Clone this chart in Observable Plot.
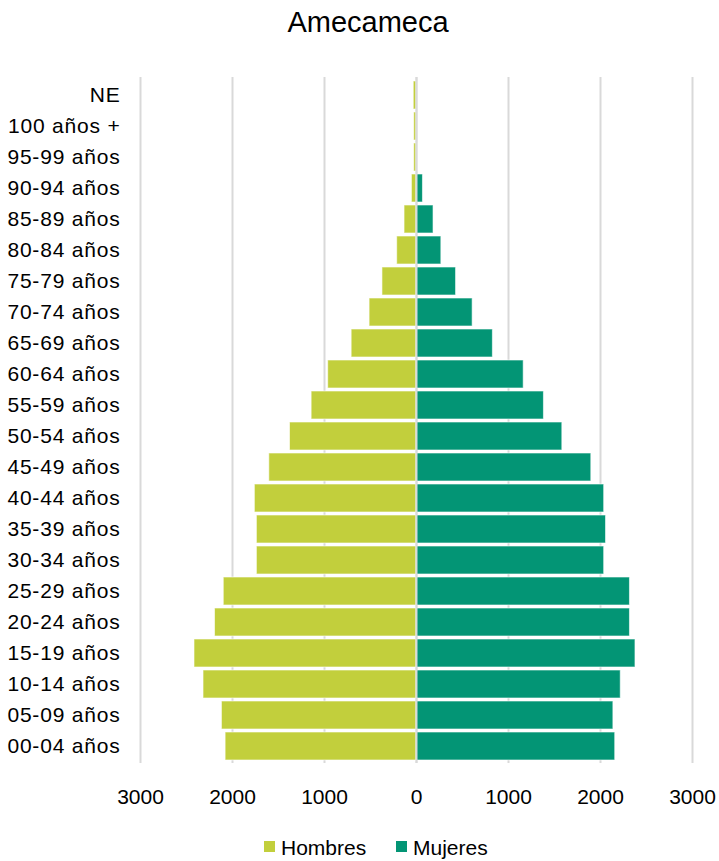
<!DOCTYPE html>
<html><head><meta charset="utf-8">
<script src="https://cdn.jsdelivr.net/npm/d3@7"></script>
<script src="https://cdn.jsdelivr.net/npm/@observablehq/plot@0.6"></script>
<style>
body{margin:0;background:#fff;font-family:"Liberation Sans",Arial,sans-serif;color:#000;}
#wrap{position:relative;width:719px;height:861px;overflow:hidden;}
#title{position:absolute;left:0;top:8px;width:736px;text-align:center;font-size:29px;line-height:29px;}
#chart{position:absolute;left:0;top:50px;}
#legend{position:absolute;left:0;top:836px;width:719px;height:24px;font-size:21px;line-height:24px;}
.item{position:absolute;top:0;white-space:nowrap;}
.sw{position:absolute;top:5px;left:0;width:11px;height:11px;}
.lbl{position:absolute;top:0;left:17px;}
.yax text{letter-spacing:0.8px;}
</style></head>
<body>
<div id="wrap">
  <div id="title">Amecameca</div>
  <div id="chart"></div>
  <div id="legend"></div>
</div>
<script>
const ages = ["NE","100 años +","95-99 años","90-94 años","85-89 años","80-84 años","75-79 años","70-74 años","65-69 años","60-64 años","55-59 años","50-54 años","45-49 años","40-44 años","35-39 años","30-34 años","25-29 años","20-24 años","15-19 años","10-14 años","05-09 años","00-04 años"];
const hombres = [30,25,25,50,130,210,370,510,705,960,1140,1375,1600,1757,1735,1735,2095,2190,2413,2315,2115,2075];
const mujeres = [8,6,10,70,185,270,430,610,830,1165,1385,1585,1900,2040,2060,2040,2320,2320,2380,2220,2140,2160];
const series = ["Hombres","Mujeres"];
const colors = ["#c2cf3c","#039575"];
const xTicks = [-3000,-2000,-1000,0,1000,2000,3000];

const data = ages.flatMap((a,i)=>[
  {age:a, sexo:"Hombres", v:-hombres[i]},
  {age:a, sexo:"Mujeres", v:mujeres[i]}
]);

const chart = Plot.plot({
  width:719, height:763,
  marginLeft:140, marginRight:27, marginTop:27, marginBottom:50,
  style:{fontFamily:'"Liberation Sans", Arial, sans-serif', fontSize:"21px", color:"#000", background:"#fff", overflow:"visible"},
  x:{domain:[-3000,3000], label:null},
  y:{domain:ages, padding:0.1, label:null},
  color:{domain:series, range:colors},
  marks:[
    Plot.gridX(xTicks,{stroke:"#d9d9d9", strokeOpacity:1, strokeWidth:2}),
    Plot.barX(data,{x:"v", y:"age", fill:"sexo", stroke:"#ffffff", strokeOpacity:0.6, strokeWidth:1}),
    Plot.ruleX([0],{stroke:"#d9d9d9", strokeWidth:2}),
    Plot.axisX(xTicks,{tickSize:0, tickPadding:26, tickFormat:d=>String(Math.abs(d)), fontSize:21, label:null}),
    Plot.axisY({tickSize:0, tickPadding:20, fontSize:21, label:null, className:"yax"})
  ]
});
document.getElementById("chart").appendChild(chart);

const legend = document.getElementById("legend");
const lefts = [264, 396];
series.forEach((s,i)=>{
  const it = document.createElement("div");
  it.className = "item";
  it.style.left = lefts[i] + "px";
  it.innerHTML = `<span class="sw" style="background:${colors[i]}"></span><span class="lbl">${s}</span>`;
  legend.appendChild(it);
});
</script>
</body></html>
